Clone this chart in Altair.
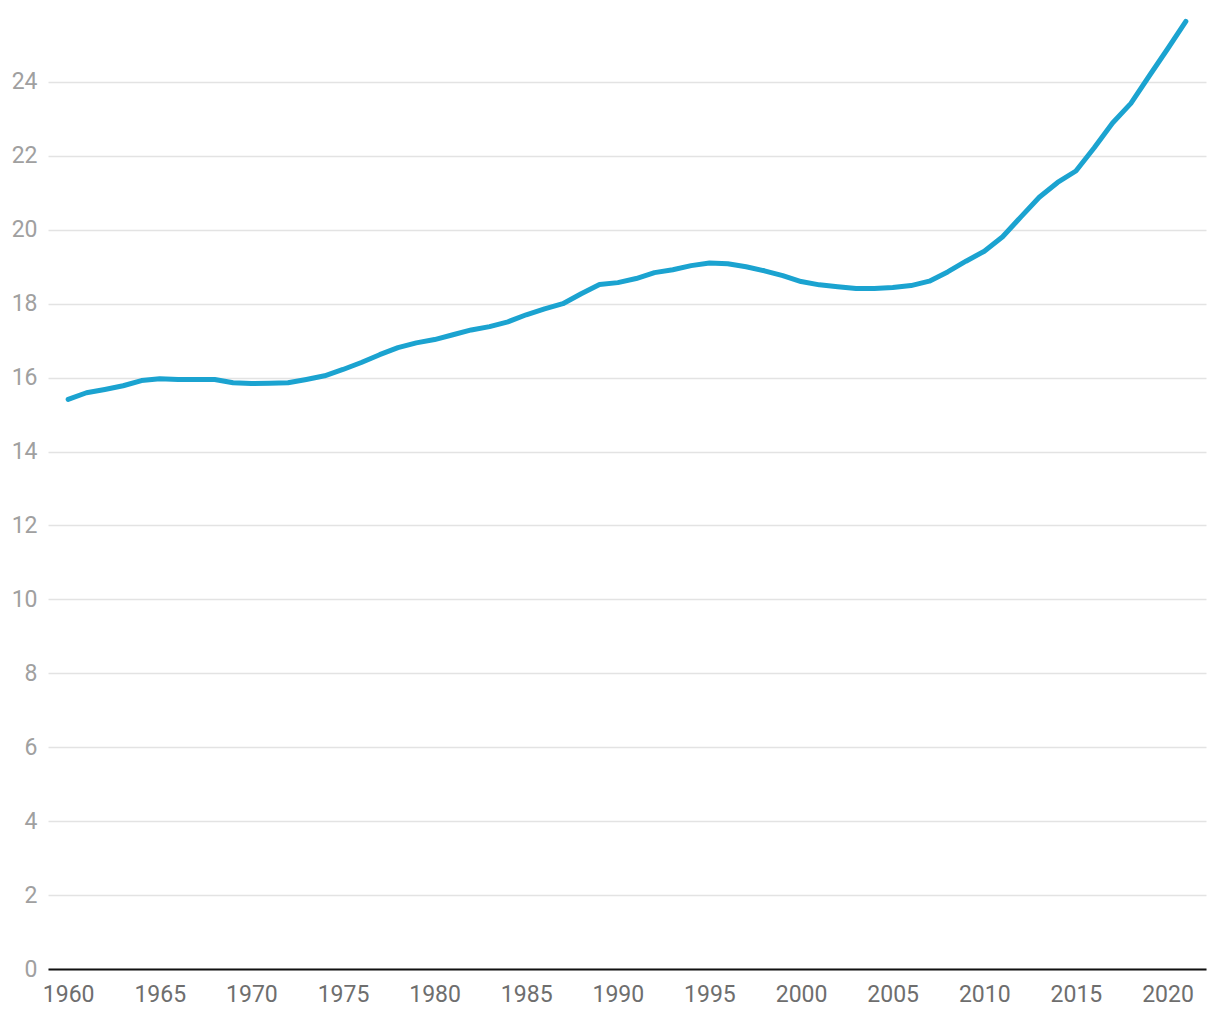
import altair as alt
import pandas as pd

years = list(range(1960, 2022))
values = [
    15.41, 15.59, 15.68, 15.78, 15.92, 15.97, 15.95, 15.95, 15.95, 15.86,
    15.84, 15.85, 15.86, 15.95, 16.05, 16.22, 16.41, 16.62, 16.81, 16.94,
    17.03, 17.16, 17.29, 17.38, 17.51, 17.70, 17.86, 18.00, 18.27, 18.52,
    18.57, 18.68, 18.84, 18.92, 19.03, 19.10, 19.08, 19.00, 18.89, 18.76,
    18.60, 18.51, 18.46, 18.41, 18.41, 18.44, 18.49, 18.61, 18.86, 19.15,
    19.42, 19.81, 20.35, 20.88, 21.28, 21.59, 22.22, 22.89, 23.42, 24.16,
    24.89, 25.64,
]
x_ticks = list(range(1960, 2021, 5))
y_ticks = list(range(0, 25, 2))

df = pd.DataFrame({"year": years, "value": values})

chart = alt.Chart(df).mark_line(
    color="#1ba3d0", strokeWidth=5, strokeCap="round", strokeJoin="round"
).encode(
    x=alt.X(
        "year:Q",
        scale=alt.Scale(domain=[1958.9, 2022.1], nice=False, zero=False),
        axis=alt.Axis(
            values=x_ticks, format="d", title=None, grid=False, ticks=False,
            domain=True, domainColor="#111111", domainWidth=2,
            labelColor="#6e6e6e", labelFont="Roboto", labelFontSize=23,
            labelPadding=14,
        ),
    ),
    y=alt.Y(
        "value:Q",
        scale=alt.Scale(domain=[0, 26], nice=False),
        axis=alt.Axis(
            values=y_ticks, title=None, grid=True, gridColor="#e3e3e3",
            gridWidth=1.5, ticks=False, domain=False,
            labelColor="#a0a0a0", labelFont="Roboto", labelFontSize=23,
            labelPadding=11,
        ),
    ),
).properties(
    width=1158,
    height=961,
    autosize=alt.AutoSizeParams(type="none"),
    padding={"left": 48, "top": 8, "right": 14, "bottom": 51},
).configure_view(stroke=None)

chart.save("out.html", embed_options={"renderer": "svg", "actions": False})
